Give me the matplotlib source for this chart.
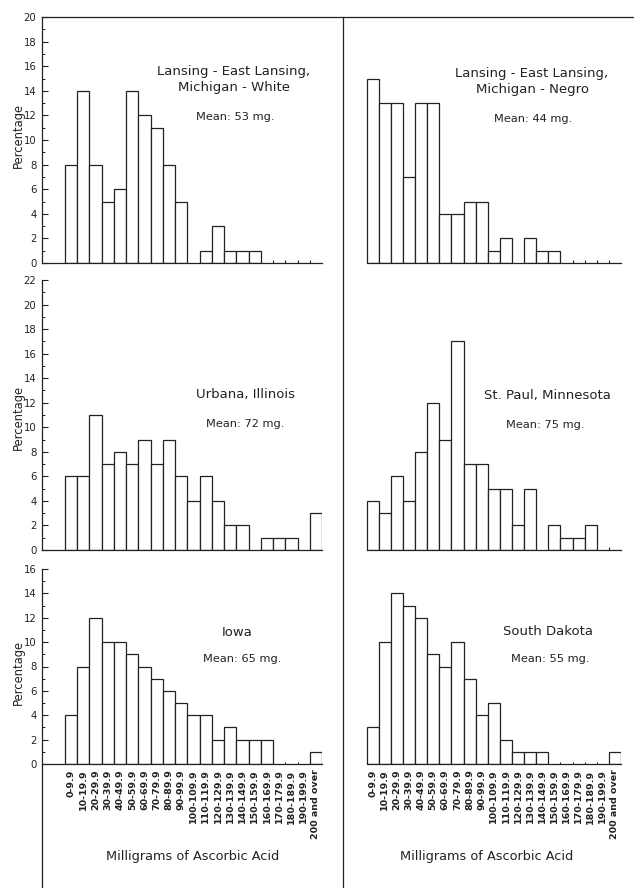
import numpy as np
import matplotlib
matplotlib.use("Agg")
import matplotlib.pyplot as plt
from matplotlib.lines import Line2D

# percentage of subjects in each 10 mg bin of ascorbic acid intake
bins = ["0-9.9", "10-19.9", "20-29.9", "30-39.9", "40-49.9", "50-59.9",
        "60-69.9", "70-79.9", "80-89.9", "90-99.9", "100-109.9", "110-119.9",
        "120-129.9", "130-139.9", "140-149.9", "150-159.9", "160-169.9",
        "170-179.9", "180-189.9", "190-199.9", "200 and over"]

lansing_white = [8, 14, 8, 5, 6, 14, 12, 11, 8, 5, 0, 1, 3, 1, 1, 1, 0, 0, 0, 0, 0]
lansing_negro = [15, 13, 13, 7, 13, 13, 4, 4, 5, 5, 1, 2, 0, 2, 1, 1, 0, 0, 0, 0, 0]
urbana = [6, 6, 11, 7, 8, 7, 9, 7, 9, 6, 4, 6, 4, 2, 2, 0, 1, 1, 1, 0, 3]
st_paul = [4, 3, 6, 4, 8, 12, 9, 17, 7, 7, 5, 5, 2, 5, 0, 2, 1, 1, 2, 0, 0]
iowa = [4, 8, 12, 10, 10, 9, 8, 7, 6, 5, 4, 4, 2, 3, 2, 2, 2, 0, 0, 0, 1]
south_dakota = [3, 10, 14, 13, 12, 9, 8, 10, 7, 4, 5, 2, 1, 1, 1, 0, 0, 0, 0, 0, 1]

titles = ["Lansing - East Lansing,\nMichigan - White", "Lansing - East Lansing,\nMichigan - Negro",
          "Urbana, Illinois", "St. Paul, Minnesota", "Iowa", "South Dakota"]
means = ["Mean: 53 mg.", "Mean: 44 mg.", "Mean: 72 mg.", "Mean: 75 mg.", "Mean: 65 mg.", "Mean: 55 mg."]
ymax = [20, 22, 16]

W, H = 634, 888
fig = plt.figure(figsize=(W / 100, H / 100), dpi=100)
fig.patch.set_facecolor("white")
ink = "#222222"


def fx(x):
    return x / W


def fy(y):
    return 1 - y / H


def px_axes(x0, x1, ytop, ybot):
    return fig.add_axes([fx(x0), fy(ybot), (x1 - x0) / W, (ybot - ytop) / H])


rows = [(17, 263), (280, 550), (569, 764)]
cols = [(42, 322, -1.88), (343, 621, -1.95)]
data = [[lansing_white, lansing_negro], [urbana, st_paul], [iowa, south_dakota]]
# title / mean text positions (pixels)
title_pos = [[(234, 80), (532, 81)], [(245, 394), (547, 395)], [(237, 632), (548, 631)]]
mean_pos = [[(235, 117), (533, 119)], [(245, 424), (545, 425)], [(242, 659), (550, 659)]]
xlab_x = [193, 487]
ylab_y = [135, 417, 672]

x = np.arange(len(bins)) + 0.5
for r, (ytop, ybot) in enumerate(rows):
    for c, (x0, x1, xl) in enumerate(cols):
        ax = px_axes(x0, x1, ytop, ybot)
        vals = np.array(data[r][c])
        m = vals > 0
        ax.bar(x[m], vals[m], width=1.0, facecolor="white", edgecolor=ink, linewidth=0.9)
        # little marks at edges of empty bins
        edges = [e for e in range(1, len(bins) + 1)
                 if vals[e - 1] == 0 and (e == len(bins) or vals[e] == 0)]
        ax.vlines(edges, 0, ymax[r] * 0.012, color=ink, linewidth=0.8)
        ax.set_xlim(xl, len(bins))
        ax.set_ylim(0, ymax[r])
        for s in ["top", "right"]:
            ax.spines[s].set_visible(False)
        ax.spines["bottom"].set_color(ink)
        ax.spines["bottom"].set_linewidth(0.9)
        if c == 0:
            ax.spines["bottom"].set_bounds(xl, len(bins))
            ax.spines["left"].set_color(ink)
            ax.spines["left"].set_linewidth(0.9)
            ax.set_yticks(np.arange(0, ymax[r] + 1, 2))
            ax.set_yticks(np.arange(0, ymax[r] + 1, 1), minor=True)
            ax.tick_params(axis="y", which="major", direction="in", length=4, width=0.8,
                           labelsize=7.3, colors=ink, pad=4)
            ax.tick_params(axis="y", which="minor", direction="in", length=2.5, width=0.7, colors=ink)
            fig.text(fx(18), fy(ylab_y[r]), "Percentage", rotation=90, ha="center", va="center",
                     fontsize=8.3, color=ink)
        else:
            ax.spines["bottom"].set_bounds(0, len(bins))
            ax.spines["left"].set_visible(False)
            ax.set_yticks([])
        if r == 2:
            ax.set_xticks(x)
            ax.set_xticklabels(bins, rotation=90, fontsize=6.8, fontweight="bold", color=ink)
            ax.tick_params(axis="x", length=0, pad=4)
            fig.text(fx(xlab_x[c]), fy(856), "Milligrams of Ascorbic Acid",
                     ha="center", va="center", fontsize=9.3, color=ink)
        else:
            ax.set_xticks([])
        tx, ty = title_pos[r][c]
        fig.text(fx(tx), fy(ty), titles[r * 2 + c], ha="center", va="center",
                 fontsize=9.5, color=ink, linespacing=1.3)
        mx, my = mean_pos[r][c]
        fig.text(fx(mx), fy(my), means[r * 2 + c], ha="center", va="center", fontsize=8.2, color=ink)

# frame lines: top rule, column divider, left axis run-out at the bottom
fig.add_artist(Line2D([fx(42), fx(634)], [fy(17), fy(17)], color=ink, linewidth=0.9))
fig.add_artist(Line2D([fx(343), fx(343)], [fy(17), fy(888)], color=ink, linewidth=0.9))
fig.add_artist(Line2D([fx(42), fx(42)], [fy(764), fy(888)], color=ink, linewidth=0.9))

fig.savefig("out.png", dpi=100, facecolor="white")
